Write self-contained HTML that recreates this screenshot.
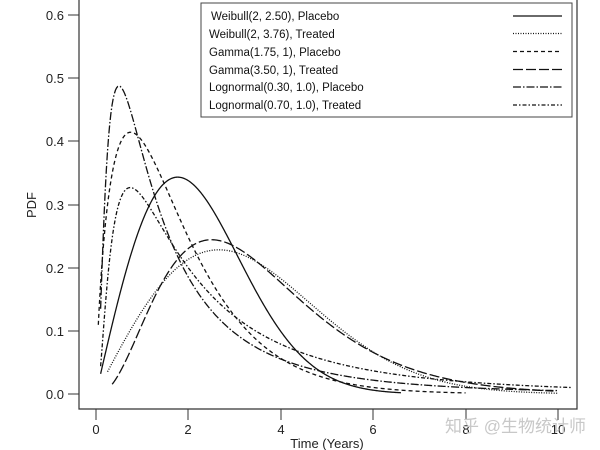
<!DOCTYPE html>
<html><head><meta charset="utf-8"><style>
html,body{margin:0;padding:0;background:#fff;}
svg{display:block;font-family:"Liberation Sans",sans-serif;}
</style></head><body>
<svg id="s" width="600" height="450" viewBox="0 0 600 450" xmlns="http://www.w3.org/2000/svg">
<rect width="600" height="450" fill="#fff"/>
<g stroke="#333" stroke-width="1.2" fill="none">
<path d="M79,0 V409 H577 V0"/>
</g>
<g stroke="#333" stroke-width="1">
<line x1="68" y1="394" x2="79" y2="394"/><line x1="68" y1="331" x2="79" y2="331"/><line x1="68" y1="268" x2="79" y2="268"/><line x1="68" y1="205" x2="79" y2="205"/><line x1="68" y1="141" x2="79" y2="141"/><line x1="68" y1="78" x2="79" y2="78"/><line x1="68" y1="15" x2="79" y2="15"/>
<line x1="96" y1="409" x2="96" y2="420"/><line x1="188" y1="409" x2="188" y2="420"/><line x1="281" y1="409" x2="281" y2="420"/><line x1="373" y1="409" x2="373" y2="420"/><line x1="466" y1="409" x2="466" y2="420"/><line x1="558" y1="409" x2="558" y2="420"/>
</g>
<g font-size="13" fill="#222" text-anchor="end">
<text x="64" y="399">0.0</text><text x="64" y="336">0.1</text><text x="64" y="273">0.2</text><text x="64" y="210">0.3</text><text x="64" y="146">0.4</text><text x="64" y="83">0.5</text><text x="64" y="20">0.6</text>
</g>
<g font-size="13" fill="#222" text-anchor="middle">
<text x="96" y="434">0</text><text x="188" y="434">2</text><text x="281" y="434">4</text><text x="373" y="434">6</text><text x="466" y="434">8</text><text x="558" y="434">10</text>
<text x="327" y="448">Time (Years)</text>
<text transform="translate(36,205) rotate(-90)">PDF</text>
</g>
<text x="445" y="432" font-size="17" fill="#c8c8c8" font-family="'Liberation Sans','Noto Sans CJK SC',sans-serif">知乎 @生物统计师</text>
<g id="curves" fill="none" stroke="#111" stroke-width="1.3"></g>
<rect x="201" y="3" width="371" height="114" fill="#fff" stroke="#444" stroke-width="1"/>
<g font-size="11.5" fill="#111">
<text x="211" y="20">Weibull(2, 2.50), Placebo</text>
<text x="209" y="38">Weibull(2, 3.76), Treated</text>
<text x="209" y="56">Gamma(1.75, 1), Placebo</text>
<text x="209" y="74">Gamma(3.50, 1), Treated</text>
<text x="209" y="91">Lognormal(0.30, 1.0), Placebo</text>
<text x="209" y="109">Lognormal(0.70, 1.0), Treated</text>
</g>
<g id="leg" stroke="#111" stroke-width="1.2"></g>
</svg>
<script>
function gammaF(z){var g=7,c=[0.99999999999980993,676.5203681218851,-1259.1392167224028,771.32342877765313,-176.61502916214059,12.507343278686905,-0.13857109526572012,9.9843695780195716e-6,1.5056327351493116e-7];if(z<0.5)return Math.PI/(Math.sin(Math.PI*z)*gammaF(1-z));z-=1;var x=c[0];for(var i=1;i<g+2;i++)x+=c[i]/(z+i);var t=z+g+0.5;return Math.sqrt(2*Math.PI)*Math.pow(t,z+0.5)*Math.exp(-t)*x;}
function wb(k,l){return function(x){return k/l*Math.pow(x/l,k-1)*Math.exp(-Math.pow(x/l,k));};}
function gm(a){var G=gammaF(a);return function(x){return Math.pow(x,a-1)*Math.exp(-x)/G;};}
function ln(m,s){return function(x){var d=Math.log(x)-m;return Math.exp(-d*d/(2*s*s))/(x*s*Math.sqrt(2*Math.PI));};}
var series=[
[wb(2,2.5),0.1,6.6,""],
[wb(2,3.76),0.25,10,"1,1.5"],
[gm(1.75),0.05,8.0,"4,3"],
[gm(3.5),0.35,9.9,"10,3"],
[ln(0.3,1),0.1,10,"8,2,1.5,2"],
[ln(0.7,1),0.1,10.3,"4,2,1.5,2"]];
var NS="http://www.w3.org/2000/svg";
var g=document.getElementById("curves"),lg=document.getElementById("leg");
series.forEach(function(s,i){var d="";for(var j=0;j<=400;j++){var x=s[1]+(s[2]-s[1])*j/400;var px=96+x*46.2,py=394-s[0](x)*632;d+=(j?"L":"M")+px.toFixed(2)+","+py.toFixed(2);}
var p=document.createElementNS(NS,"path");p.setAttribute("d",d);if(s[3])p.setAttribute("stroke-dasharray",s[3]);g.appendChild(p);
var l=document.createElementNS(NS,"line");var y=[16,33.5,51.5,69.5,87,105][i];l.setAttribute("x1",513);l.setAttribute("x2",562);l.setAttribute("y1",y);l.setAttribute("y2",y);if(s[3])l.setAttribute("stroke-dasharray",s[3]);lg.appendChild(l);});
</script>
</body></html>
